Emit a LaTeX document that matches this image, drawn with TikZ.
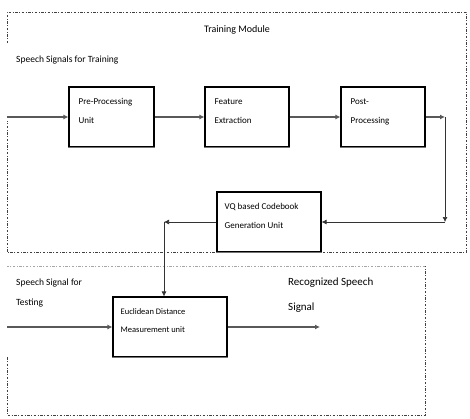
\documentclass[tikz,border=0pt]{standalone}
\usepackage{fontspec}
\setmainfont{Carlito}
\usetikzlibrary{arrows.meta}
\begin{document}
\begin{tikzpicture}[x=1pt,y=-1pt,
  frame/.style={line width=0.8pt, dash pattern=on 2.5pt off 1.5pt on 1pt off 1.5pt, black!75},
  unit/.style={draw=black, line width=1.1pt, minimum width=#1, minimum height=60pt, inner sep=0pt},
  unitlabel/.style={anchor=north west, align=left, inner sep=0pt,
    font=\fontsize{9}{19}\selectfont},
  flow/.style={line width=1.7pt, black!65, -{Latex[length=5pt,width=5pt]}},
  feed/.style={line width=0.7pt, black!80, -{Latex[length=5pt,width=5pt]}},
  caption/.style={inner sep=0pt, align=left}]
  \useasboundingbox (0,0) rectangle (470,418);

  % module frames
  \draw[frame] (7,43) -- (7,12) -- (466,12) -- (466,252) -- (7,252) -- (7,121);
  \draw[frame] (7,357) -- (7,415) -- (425,415) -- (425,266);
  \draw[frame, black!35] (425,266) -- (7,266);

  % processing units
  \node[unit=85pt] (pre)  at (111.5,117) {};
  \node[unit=84pt] (feat) at (247,117) {};
  \node[unit=84pt] (post) at (383,117) {};
  \node[unit=104pt] (vq)  at (269,222) {};
  \node[unit=114pt] (eucl) at (170,327) {};
  \foreach \b in {pre,feat,post,vq,eucl}
    \draw[black!55, line width=1.4pt] (\b.south west) -- (\b.south east);

  \node[unitlabel] (preT)  at ([shift={(10,12)}]pre.north west) {Pre-Processing\\Unit};
  \node[unitlabel] (featT) at ([shift={(10,12)}]feat.north west) {Feature\\Extraction};
  \node[unitlabel] (postT) at ([shift={(10,12)}]post.north west) {Post-\\Processing};
  \node[unitlabel] (vqT)   at ([shift={(8,12)}]vq.north west) {VQ based Codebook\\Generation Unit};
  \node[unitlabel, font=\fontsize{8.5}{18}\selectfont] (euclT) at ([shift={(8,12)}]eucl.north west)
    {Euclidean Distance\\Measurement unit};

  % captions
  \node[caption, font=\fontsize{10}{12}\selectfont] (title) at (237,30) {Training Module};
  \node[caption, anchor=west, font=\fontsize{9.5}{12}\selectfont] (trainIn) at (16,60)
    {Speech Signals for Training};
  \node[caption, anchor=north west, font=\fontsize{9.5}{20}\selectfont] (testIn) at (16,279)
    {Speech Signal for\\Testing};
  \node[caption, anchor=north west, font=\fontsize{11}{25}\selectfont] (result) at (288,278)
    {Recognized Speech\\Signal};

  % connector points
  \coordinate (in1) at (7,117);
  \coordinate (c1) at (445,117);
  \coordinate (c2) at (445,222);
  \coordinate (c3) at (164,222);
  \coordinate (in2) at (7,327);
  \coordinate (out) at (320,327);

  % signal flow
  \draw[flow] (in1) -- (pre.west);
  \draw[flow] (pre.east) -- (feat.west);
  \draw[flow] (feat.east) -- (post.west);
  \draw[flow] (post.east) -- (c1);
  \draw[feed] (c1) -- (c2);
  \draw[feed] (c2) -- (vq.east);
  \draw[feed] (vq.west) -- (c3);
  \draw[feed] (c3) -- (c3 |- eucl.north);
  \draw[flow] (in2) -- (eucl.west);
  \draw[flow] (eucl.east) -- (out);
\end{tikzpicture}
\end{document}
